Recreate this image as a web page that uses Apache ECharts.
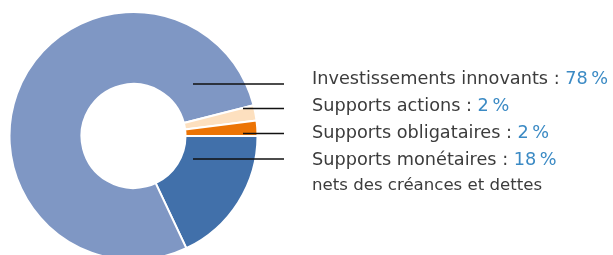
<!DOCTYPE html>
<html><head><meta charset="utf-8">
<script src="https://cdn.jsdelivr.net/npm/echarts@6/dist/echarts.min.js"></script>
<style>html,body{margin:0;padding:0;background:#fff}#c{width:613px;height:255px}</style>
</head><body><div id="c"></div>
<script>
// Data (pie order, clockwise from 3 o'clock)
const categories = ['Supports monétaires', 'Investissements innovants', 'Supports actions', 'Supports obligataires'];
const values = [18, 78, 2, 2];
const colors = ['#4170aa', '#7f97c4', '#fde0bf', '#ec7405'];
// Label order (top to bottom)
const labelOrder = [1, 2, 3, 0];
const subNote = 'nets des créances et dettes';

const chart = echarts.init(document.getElementById('c'), null, {renderer: 'canvas'});
const cx = 133.5, cy = 136;
const lineYs = [84, 108.5, 133.5, 159];
const lineX0 = [193, 243, 243, 193];
const textX = 312, rowY = [79, 106.5, 133.5, 160.5];
const FONT = '"DejaVu Sans"';

const graphic = [];
labelOrder.forEach((idx, i) => {
  graphic.push({type: 'line', z: 10, shape: {x1: lineX0[i], y1: lineYs[i], x2: 284, y2: lineYs[i]}, style: {stroke: '#111', lineWidth: 1.4}});
  graphic.push({type: 'text', x: textX, y: rowY[i], style: {
    verticalAlign: 'middle', align: 'left',
    text: '{a|' + categories[idx] + ' : }{b|' + values[idx] + '\u2009%}',
    rich: {a: {fontFamily: FONT, fontSize: 17.7, fill: '#3c3c3c'}, b: {fontFamily: FONT, fontSize: 17.7, fill: '#3b8ac4'}}
  }});
});
graphic.push({type: 'text', x: textX, y: 186, style: {verticalAlign: 'middle', align: 'left', text: subNote, fontFamily: FONT, fontSize: 16.6, fill: '#3c3c3c'}});

chart.setOption({
  animation: false,
  series: [{
    type: 'pie',
    center: [cx, cy],
    radius: [52, 124],
    startAngle: 0,
    clockwise: true,
    label: {show: false},
    labelLine: {show: false},
    itemStyle: {borderColor: '#fff', borderWidth: 2},
    emphasis: {disabled: true},
    data: categories.map((n, i) => ({name: n, value: values[i], itemStyle: {color: colors[i]}}))
  }],
  graphic: graphic
});
</script></body></html>
